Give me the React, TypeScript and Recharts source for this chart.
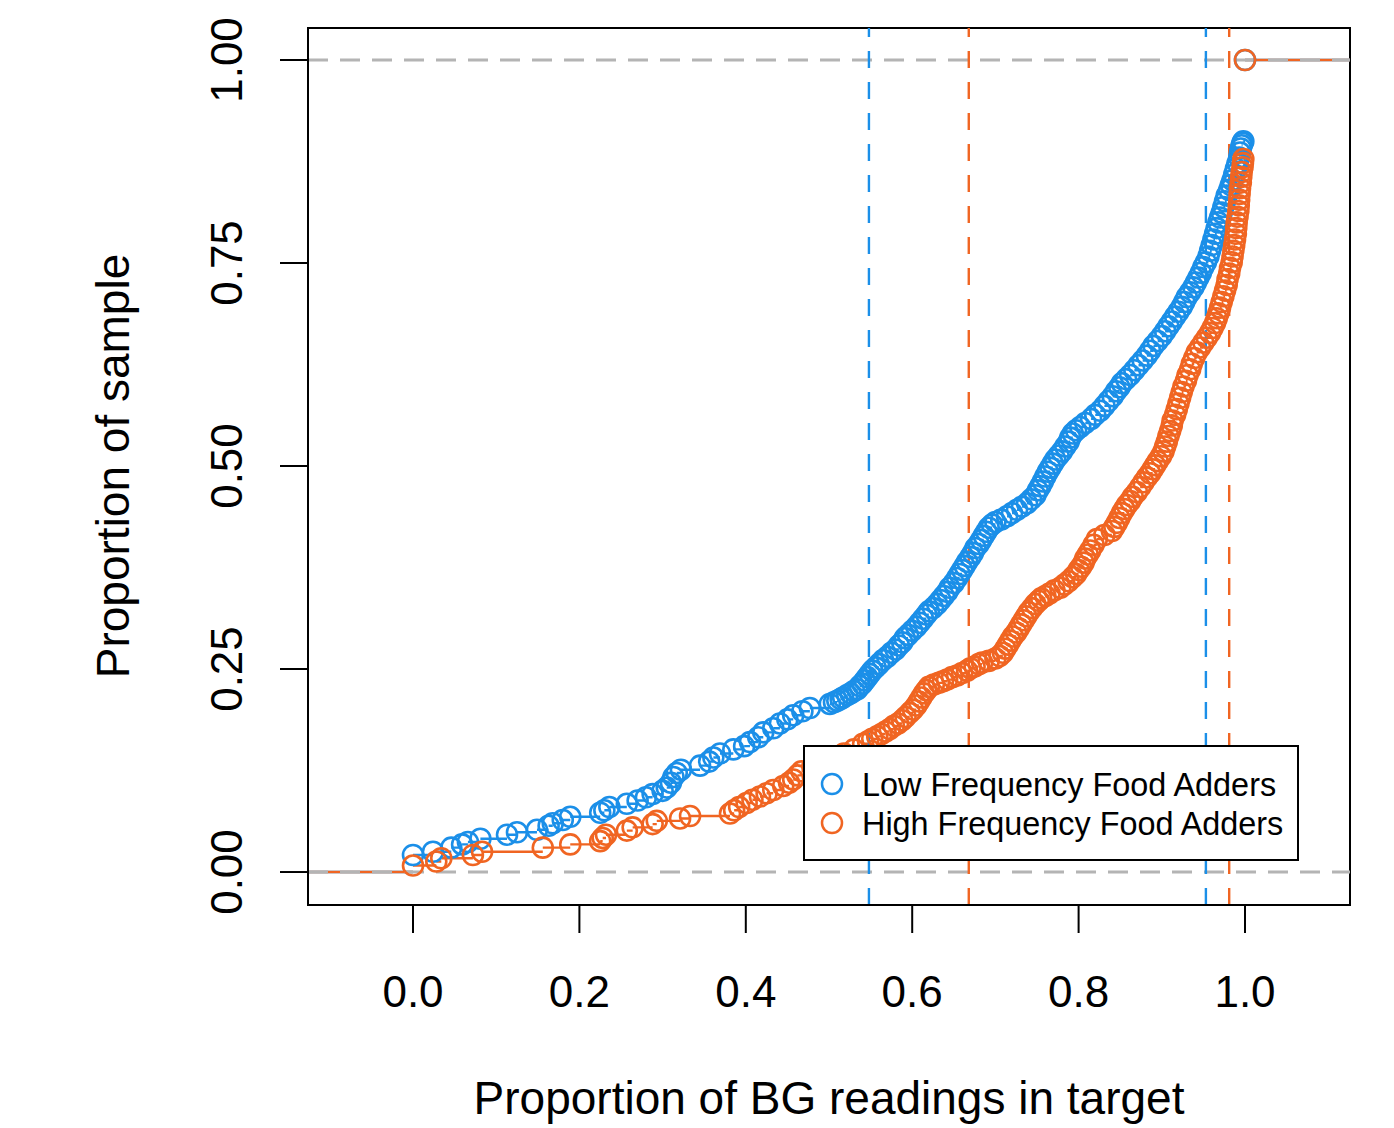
import { ComposedChart, Legend, Line, ReferenceArea, ReferenceLine, Scatter, XAxis, YAxis } from "recharts";

const FONT = '"Liberation Sans", Arial, Helvetica, sans-serif';
const BLUE = "#1B8FE8";
const ORANGE = "#F06522";
const GRAY = "#B4B4B4";

const X_DOMAIN: [number, number] = [-0.1262, 1.1262];
const Y_DOMAIN: [number, number] = [-0.0406, 1.0394];

const xTicks = [0, 0.2, 0.4, 0.6, 0.8, 1.0];
const yTicks = [0, 0.25, 0.5, 0.75, 1.0];
const seriesNames = ["Low Frequency Food Adders", "High Frequency Food Adders"];

// ECDF points [proportion in target, proportion of sample]
const lowFreq: [number, number][] = [
  [0.000, 0.021], [0.024, 0.025], [0.046, 0.030], [0.059, 0.034], [0.066, 0.037], [0.081, 0.041],
  [0.113, 0.046], [0.125, 0.049], [0.149, 0.052], [0.163, 0.057], [0.168, 0.060], [0.180, 0.064],
  [0.189, 0.068], [0.225, 0.073], [0.230, 0.076], [0.236, 0.080], [0.257, 0.084], [0.270, 0.088],
  [0.280, 0.092], [0.288, 0.096], [0.300, 0.100], [0.305, 0.104], [0.310, 0.110], [0.313, 0.117],
  [0.317, 0.122], [0.322, 0.126], [0.345, 0.131], [0.356, 0.136], [0.361, 0.141], [0.369, 0.146],
  [0.385, 0.151], [0.398, 0.155], [0.405, 0.160], [0.415, 0.166], [0.421, 0.172], [0.433, 0.177],
  [0.441, 0.183], [0.450, 0.188], [0.457, 0.193], [0.468, 0.198], [0.477, 0.202], [0.501, 0.207],
  [0.506, 0.209], [0.510, 0.211], [0.514, 0.213], [0.517, 0.215], [0.522, 0.218], [0.526, 0.220],
  [0.530, 0.223], [0.534, 0.225], [0.537, 0.229], [0.540, 0.232], [0.543, 0.236], [0.546, 0.240],
  [0.549, 0.244], [0.552, 0.248], [0.556, 0.252], [0.560, 0.256], [0.565, 0.261], [0.570, 0.265],
  [0.575, 0.270], [0.580, 0.274], [0.584, 0.279], [0.588, 0.283], [0.591, 0.288], [0.595, 0.292],
  [0.600, 0.297], [0.605, 0.302], [0.609, 0.307], [0.613, 0.312], [0.617, 0.317], [0.620, 0.321],
  [0.625, 0.325], [0.630, 0.330], [0.634, 0.335], [0.638, 0.340], [0.642, 0.345], [0.645, 0.350],
  [0.650, 0.356], [0.654, 0.362], [0.657, 0.367], [0.660, 0.372], [0.663, 0.377], [0.666, 0.382],
  [0.670, 0.388], [0.673, 0.393], [0.676, 0.399], [0.680, 0.404], [0.683, 0.409], [0.686, 0.414],
  [0.689, 0.419], [0.692, 0.424], [0.696, 0.428], [0.700, 0.431], [0.707, 0.434], [0.714, 0.438],
  [0.720, 0.442], [0.726, 0.446], [0.732, 0.450], [0.738, 0.454], [0.743, 0.459], [0.748, 0.464],
  [0.751, 0.470], [0.754, 0.475], [0.757, 0.481], [0.760, 0.487], [0.763, 0.493], [0.766, 0.498],
  [0.769, 0.503], [0.772, 0.508], [0.776, 0.513], [0.780, 0.518], [0.784, 0.524], [0.788, 0.530],
  [0.790, 0.535], [0.793, 0.540], [0.797, 0.544], [0.802, 0.548], [0.808, 0.553], [0.815, 0.558],
  [0.820, 0.563], [0.826, 0.568], [0.831, 0.574], [0.836, 0.580], [0.841, 0.586], [0.845, 0.592],
  [0.849, 0.597], [0.852, 0.602], [0.857, 0.607], [0.862, 0.612], [0.867, 0.618], [0.872, 0.624],
  [0.877, 0.630], [0.882, 0.636], [0.886, 0.642], [0.890, 0.648], [0.895, 0.654], [0.900, 0.660],
  [0.904, 0.666], [0.908, 0.672], [0.912, 0.678], [0.916, 0.684], [0.920, 0.690], [0.924, 0.696],
  [0.927, 0.702], [0.930, 0.708], [0.934, 0.714], [0.938, 0.720], [0.941, 0.726], [0.944, 0.732],
  [0.947, 0.738], [0.950, 0.745], [0.953, 0.751], [0.956, 0.758], [0.958, 0.765], [0.960, 0.772],
  [0.962, 0.779], [0.964, 0.786], [0.966, 0.793], [0.968, 0.800], [0.970, 0.806], [0.972, 0.812],
  [0.974, 0.819], [0.976, 0.826], [0.978, 0.833], [0.981, 0.840], [0.983, 0.846], [0.985, 0.852],
  [0.987, 0.859], [0.989, 0.866], [0.991, 0.873], [0.993, 0.880], [0.994, 0.886], [0.995, 0.891],
  [0.996, 0.895], [0.997, 0.898], [0.998, 0.900], [1.000, 1.000],
];

const highFreq: [number, number][] = [
  [0.000, 0.008], [0.028, 0.013], [0.034, 0.017], [0.072, 0.021], [0.083, 0.025], [0.156, 0.030],
  [0.189, 0.034], [0.225, 0.038], [0.228, 0.042], [0.232, 0.046], [0.257, 0.051], [0.264, 0.055],
  [0.288, 0.059], [0.293, 0.063], [0.321, 0.066], [0.333, 0.069], [0.381, 0.072], [0.386, 0.076],
  [0.392, 0.080], [0.401, 0.085], [0.408, 0.089], [0.417, 0.093], [0.425, 0.097], [0.433, 0.101],
  [0.445, 0.106], [0.452, 0.110], [0.457, 0.114], [0.462, 0.119], [0.467, 0.124], [0.480, 0.130],
  [0.493, 0.135], [0.505, 0.140], [0.518, 0.146], [0.530, 0.151], [0.541, 0.158], [0.547, 0.161],
  [0.552, 0.164], [0.558, 0.167], [0.563, 0.170], [0.568, 0.173], [0.573, 0.176], [0.578, 0.180],
  [0.583, 0.183], [0.588, 0.187], [0.592, 0.191], [0.597, 0.196], [0.601, 0.200], [0.605, 0.205],
  [0.608, 0.210], [0.611, 0.215], [0.614, 0.220], [0.617, 0.224], [0.620, 0.228], [0.626, 0.231],
  [0.632, 0.233], [0.637, 0.235], [0.642, 0.237], [0.648, 0.240], [0.654, 0.242], [0.660, 0.245],
  [0.666, 0.248], [0.670, 0.251], [0.675, 0.253], [0.680, 0.256], [0.684, 0.258], [0.692, 0.260],
  [0.700, 0.263], [0.705, 0.266], [0.709, 0.270], [0.712, 0.275], [0.715, 0.280], [0.718, 0.285],
  [0.721, 0.290], [0.725, 0.295], [0.728, 0.300], [0.731, 0.305], [0.734, 0.310], [0.737, 0.315],
  [0.740, 0.320], [0.744, 0.325], [0.748, 0.330], [0.752, 0.334], [0.755, 0.337], [0.760, 0.340],
  [0.765, 0.343], [0.771, 0.347], [0.778, 0.350], [0.783, 0.354], [0.788, 0.358], [0.793, 0.363],
  [0.797, 0.367], [0.800, 0.372], [0.803, 0.376], [0.806, 0.381], [0.808, 0.386], [0.811, 0.391],
  [0.814, 0.396], [0.818, 0.403], [0.822, 0.410], [0.831, 0.415], [0.840, 0.420], [0.843, 0.425],
  [0.846, 0.430], [0.849, 0.436], [0.852, 0.442], [0.855, 0.447], [0.858, 0.452], [0.862, 0.457],
  [0.865, 0.462], [0.870, 0.468], [0.874, 0.474], [0.878, 0.480], [0.882, 0.486], [0.886, 0.491],
  [0.889, 0.496], [0.892, 0.501], [0.895, 0.506], [0.899, 0.512], [0.902, 0.518], [0.904, 0.524],
  [0.906, 0.530], [0.908, 0.537], [0.910, 0.543], [0.912, 0.550], [0.913, 0.556], [0.916, 0.563],
  [0.918, 0.570], [0.920, 0.577], [0.922, 0.584], [0.924, 0.591], [0.926, 0.598], [0.929, 0.605],
  [0.931, 0.612], [0.934, 0.619], [0.936, 0.626], [0.939, 0.633], [0.942, 0.640], [0.946, 0.646],
  [0.950, 0.652], [0.954, 0.658], [0.958, 0.664], [0.961, 0.670], [0.964, 0.676], [0.966, 0.682],
  [0.968, 0.688], [0.970, 0.695], [0.972, 0.702], [0.974, 0.709], [0.976, 0.716], [0.978, 0.723],
  [0.979, 0.730], [0.981, 0.737], [0.982, 0.744], [0.984, 0.751], [0.985, 0.758], [0.986, 0.765],
  [0.987, 0.772], [0.988, 0.779], [0.989, 0.786], [0.9895, 0.793], [0.990, 0.800], [0.991, 0.807],
  [0.992, 0.814], [0.9925, 0.821], [0.993, 0.828], [0.9935, 0.835], [0.994, 0.842], [0.995, 0.849],
  [0.9955, 0.856], [0.996, 0.862], [0.997, 0.868], [0.9975, 0.873], [0.998, 0.878], [1.000, 1.000],
];

// dashed vertical markers per group
const lowMarkers = [0.548, 0.953];
const highMarkers = [0.668, 0.981];
const refLevels = [0, 1];

type Pt = { x: number; y: number | null };

const toPoints = (pairs: [number, number][]): Pt[] => pairs.map(([x, y]) => ({ x, y }));

// horizontal-only steps like R's plot.ecdf (no verticals)
function toSteps(pairs: [number, number][]): Pt[] {
  const out: Pt[] = [
    { x: X_DOMAIN[0], y: 0 },
    { x: pairs[0][0], y: 0 },
    { x: pairs[0][0], y: null },
  ];
  pairs.forEach(([x, y], i) => {
    const next = i < pairs.length - 1 ? pairs[i + 1][0] : X_DOMAIN[1];
    out.push({ x, y }, { x: next, y }, { x: next, y: null });
  });
  return out;
}

const ring = (color: string) => (props: any) => (
  <circle cx={props.cx} cy={props.cy} r={10} fill="none" stroke={color} strokeWidth={2.6} />
);

const XTick = ({ x, y, payload }: any) => (
  <text x={x} y={y + 74} textAnchor="middle" fontSize={44} fontFamily={FONT} fill="#000">
    {Number(payload.value).toFixed(1)}
  </text>
);

const YTick = ({ x, y, payload }: any) => (
  <text transform={`translate(${x - 38},${y}) rotate(-90)`} textAnchor="middle" fontSize={44} fontFamily={FONT} fill="#000">
    {Number(payload.value).toFixed(2)}
  </text>
);

const LegendBox = () => (
  <svg width={496} height={116} style={{ display: "block" }}>
    <rect x={1} y={1} width={494} height={114} fill="#fff" stroke="#000" strokeWidth={2} />
    {seriesNames.map((name, i) => (
      <g key={name}>
        <circle cx={29} cy={39 + i * 39} r={10} fill="none" stroke={i === 0 ? BLUE : ORANGE} strokeWidth={2.5} />
        <text x={59} y={51 + i * 39} fontSize={32.4} fontFamily={FONT} fill="#000">
          {name}
        </text>
      </g>
    ))}
  </svg>
);

export default function App() {
  return (
    <div style={{ position: "absolute", left: 0, top: 0, background: "#fff" }}>
      <ComposedChart width={1394} height={1128} margin={{ top: 28, right: 44, left: 0, bottom: 0 }}>
        <XAxis
          type="number"
          dataKey="x"
          domain={X_DOMAIN}
          allowDataOverflow
          ticks={xTicks}
          interval={0}
          height={223}
          tickSize={28}
          tickMargin={0}
          tick={<XTick />}
          tickLine={{ stroke: "#000", strokeWidth: 2 }}
          axisLine={{ stroke: "#000", strokeWidth: 2 }}
          label={{
            content: () => (
              <text x={829} y={1114} textAnchor="middle" fontSize={46} fontFamily={FONT} fill="#000">
                Proportion of BG readings in target
              </text>
            ),
          }}
        />
        <YAxis
          type="number"
          dataKey="y"
          domain={Y_DOMAIN}
          allowDataOverflow
          ticks={yTicks}
          interval={0}
          width={308}
          tickSize={28}
          tickMargin={0}
          tick={<YTick />}
          tickLine={{ stroke: "#000", strokeWidth: 2 }}
          axisLine={{ stroke: "#000", strokeWidth: 2 }}
          label={{
            content: () => (
              <text transform="translate(129,466) rotate(-90)" textAnchor="middle" fontSize={46} fontFamily={FONT} fill="#000">
                Proportion of sample
              </text>
            ),
          }}
        />
        <Line data={toSteps(lowFreq)} dataKey="y" stroke={BLUE} strokeWidth={2.4} dot={false} connectNulls={false} isAnimationActive={false} />
        <Scatter data={toPoints(lowFreq)} dataKey="y" shape={ring(BLUE)} isAnimationActive={false} />
        <Line data={toSteps(highFreq)} dataKey="y" stroke={ORANGE} strokeWidth={2.4} dot={false} connectNulls={false} isAnimationActive={false} />
        <Scatter data={toPoints(highFreq)} dataKey="y" shape={ring(ORANGE)} isAnimationActive={false} />
        {refLevels.map((v) => (
          <ReferenceLine key={`h${v}`} y={v} stroke={GRAY} strokeWidth={3} strokeDasharray="20 12" />
        ))}
        {lowMarkers.map((v) => (
          <ReferenceLine key={`l${v}`} x={v} stroke={BLUE} strokeWidth={2.4} strokeDasharray="17 14" />
        ))}
        {highMarkers.map((v) => (
          <ReferenceLine key={`o${v}`} x={v} stroke={ORANGE} strokeWidth={2.4} strokeDasharray="17 14" />
        ))}
        <ReferenceArea x1={X_DOMAIN[0]} x2={X_DOMAIN[1]} y1={Y_DOMAIN[0]} y2={Y_DOMAIN[1]} fill="none" stroke="#000" strokeWidth={2} />
        <Legend
          layout="horizontal"
          verticalAlign="middle"
          align="center"
          content={<LegendBox />}
          wrapperStyle={{ left: 803, top: 745, width: 496, height: 116 }}
        />
      </ComposedChart>
    </div>
  );
}
